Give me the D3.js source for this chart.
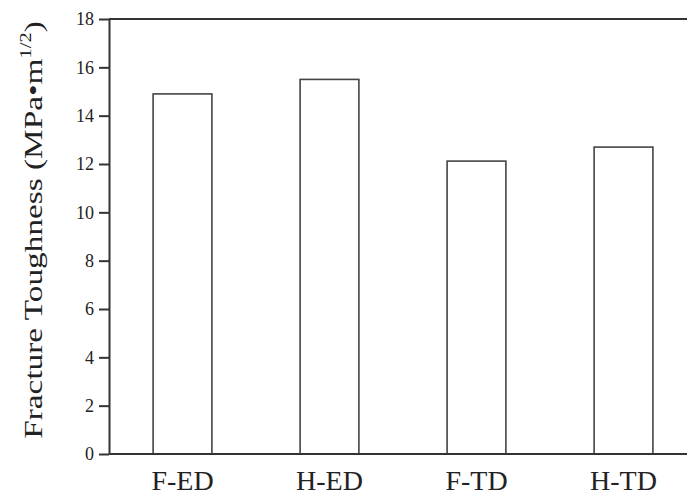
<!DOCTYPE html>
<html>
<head>
<meta charset="utf-8">
<script src="https://cdn.jsdelivr.net/npm/d3@7"></script>
<style>
  html, body { margin: 0; padding: 0; background: #fff; }
  svg { display: block; }
  text { font-family: "Liberation Serif", "DejaVu Serif", serif; fill: #222; }
</style>
</head>
<body>
<svg id="chart" width="687" height="495"></svg>
<script>
// Fracture toughness by specimen orientation
const categories = ["F-ED", "H-ED", "F-TD", "H-TD"];
const toughness = [14.9, 15.5, 12.12, 12.7];
const yTicks = [0, 2, 4, 6, 8, 10, 12, 14, 16, 18];

const W = 687, H = 495;
const margin = { top: 19, right: -10, bottom: 41, left: 109 };
const svg = d3.select("#chart");

const x = d3.scaleBand()
  .domain(categories)
  .range([margin.left, W - margin.right])
  .paddingInner(0.6)
  .paddingOuter(0.3);

const y = d3.scaleLinear()
  .domain([0, 18])
  .range([H - margin.bottom, margin.top]);

const ink = "#333";

// bars
svg.append("g")
  .selectAll("rect")
  .data(categories)
  .join("rect")
  .attr("x", d => x(d))
  .attr("y", (d, i) => y(toughness[i]))
  .attr("width", x.bandwidth())
  .attr("height", (d, i) => y(0) - y(toughness[i]))
  .attr("fill", "#fff")
  .attr("stroke", "#444")
  .attr("stroke-width", 1.6);

// top frame line
svg.append("line")
  .attr("x1", margin.left).attr("x2", W)
  .attr("y1", y(18)).attr("y2", y(18))
  .attr("stroke", ink).attr("stroke-width", 2);

// bottom axis line
svg.append("line")
  .attr("x1", margin.left).attr("x2", W)
  .attr("y1", y(0)).attr("y2", y(0))
  .attr("stroke", ink).attr("stroke-width", 2);

// y axis
const yAxis = svg.append("g")
  .attr("transform", `translate(${margin.left},0)`)
  .call(d3.axisLeft(y).tickValues(yTicks).tickSize(10).tickPadding(5).tickSizeOuter(0));
yAxis.select(".domain").attr("stroke", ink).attr("stroke-width", 2);
yAxis.selectAll(".tick line").attr("stroke", ink).attr("stroke-width", 2);
yAxis.selectAll(".tick text")
  .attr("font-family", "'Liberation Serif', serif")
  .attr("font-size", 18)
  .attr("fill", "#222");

// category labels
svg.append("g")
  .selectAll("text")
  .data(categories)
  .join("text")
  .attr("x", d => x(d) + x.bandwidth() / 2)
  .attr("y", 490)
  .attr("text-anchor", "middle")
  .attr("font-size", 28)
  .text(d => d);

// y axis title (set a little wide along its run)
const title = svg.append("text")
  .attr("transform", `translate(42, 230) rotate(-90) scale(1.28,1)`)
  .attr("text-anchor", "middle")
  .attr("font-size", 26);
title.append("tspan").text("Fracture Toughness (MPa\u2022m");
title.append("tspan").attr("font-size", 16).attr("dy", -11).text("1/2");
title.append("tspan").attr("dy", 11).text(")");
</script>
</body>
</html>
